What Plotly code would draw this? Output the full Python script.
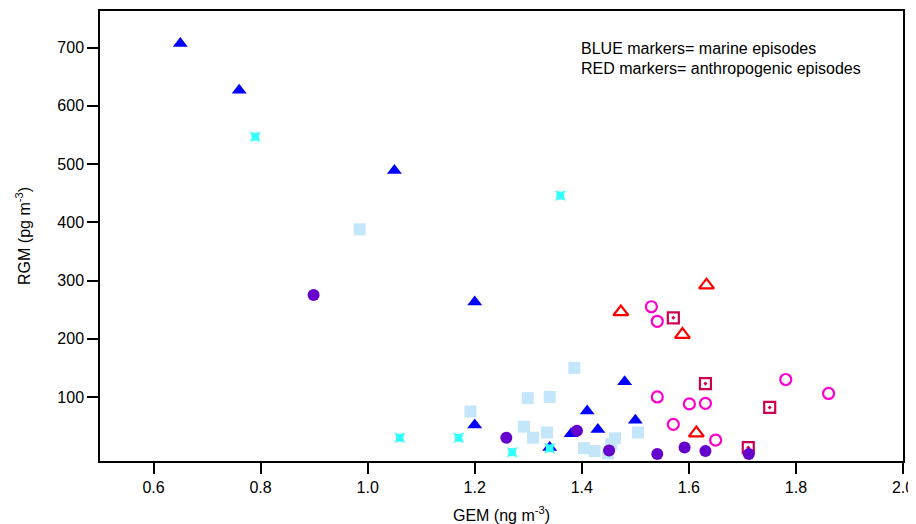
import plotly.graph_objects as go

# Light blue filled squares
sq_lb_x = [0.985, 1.192, 1.299, 1.340, 1.386, 1.292, 1.309, 1.335, 1.404, 1.424, 1.449, 1.462, 1.455, 1.505]
sq_lb_y = [388, 75, 98, 100, 150, 49, 30, 39, 12, 7, 3, 29, 19, 39]

# Blue filled triangles
tri_b_x = [0.65, 0.76, 1.05, 1.20, 1.20, 1.48, 1.41, 1.50, 1.43, 1.38, 1.34]
tri_b_y = [707, 627, 489, 263, 52, 126, 76, 60, 44, 37, 13]

# Cyan stars
star_c_x = [0.79, 1.36, 1.06, 1.17, 1.27, 1.34]
star_c_y = [547, 446, 30, 30, 5, 12]

# Crimson open squares with dot
sq_cr_x = [1.571, 1.631, 1.751, 1.711]
sq_cr_y = [236, 123, 82, 13]

# Red open triangles
tri_r_x = [1.473, 1.633, 1.588, 1.614]
tri_r_y = [246, 292, 207, 38]

# Magenta open circles
circ_m_x = [1.530, 1.541, 1.541, 1.601, 1.631, 1.571, 1.650, 1.781, 1.861]
circ_m_y = [255, 230, 100, 88, 89, 53, 26, 130, 106]

# Purple filled circles
circ_p_x = [0.899, 1.259, 1.391, 1.451, 1.541, 1.592, 1.631, 1.712]
circ_p_y = [275, 30, 42, 8, 2, 13, 7, 2]

x_ticks = [0.6, 0.8, 1.0, 1.2, 1.4, 1.6, 1.8, 2.0]
y_ticks = [100, 200, 300, 400, 500, 600, 700]

fig = go.Figure()

def add(x, y, symbol, color, size, lw=0, lc=None):
    fig.add_trace(go.Scatter(
        x=x, y=y, mode="markers", showlegend=False, cliponaxis=False,
        marker=dict(symbol=symbol, color=color, size=size,
                    line=dict(width=lw, color=lc if lc else color)),
    ))

add(sq_lb_x, sq_lb_y, "square", "#C4E6FA", 12)
add(tri_b_x, tri_b_y, "triangle-up", "#0000FF", 13)
add(star_c_x, star_c_y, "star-square", "#33FFFF", 10)
add(sq_cr_x, sq_cr_y, "square-open-dot", "#CC0055", 11, lw=2.2)
add(tri_r_x, tri_r_y, "triangle-up-open", "#FF0000", 13, lw=2.2)
add(circ_m_x, circ_m_y, "circle-open", "#FF00CC", 11, lw=2.2)
add(circ_p_x, circ_p_y, "circle", "#6600CC", 12)

font = dict(family="Liberation Sans", size=16, color="#000000")

fig.update_layout(
    width=908, height=516,
    margin=dict(l=92, r=13, t=3, b=63),
    plot_bgcolor="white", paper_bgcolor="white",
    font=font,
    xaxis=dict(
        range=[0.5, 2.0], tickvals=x_ticks, ticktext=[f"{v:.1f}" for v in x_ticks],
        showgrid=False, zeroline=False, showline=True, mirror=True,
        linecolor="black", linewidth=1.5, ticks="outside", ticklen=11,
        tickwidth=1.5, tickcolor="black", automargin=False,
        ticklabeloverflow="allow",
        title=dict(text="GEM (ng m<sup>-3</sup>)", standoff=15, font=font),
    ),
    yaxis=dict(
        range=[-10, 763], tickvals=y_ticks,
        showgrid=False, zeroline=False, showline=True, mirror=True,
        linecolor="black", linewidth=1.5, ticks="outside", ticklen=11,
        tickwidth=1.5, tickcolor="black", automargin=False,
        title=dict(text="RGM (pg m<sup>-3</sup>)", standoff=23, font=font),
    ),
    annotations=[
        dict(xref="paper", yref="paper", x=(579-100)/803, y=1-(49-11)/450,
             text="BLUE markers= marine episodes", showarrow=False,
             xanchor="left", yanchor="middle", font=font),
        dict(xref="paper", yref="paper", x=(579-100)/803, y=1-(68-11)/450,
             text="RED markers= anthropogenic episodes", showarrow=False,
             xanchor="left", yanchor="middle", font=font),
    ],
)

fig.write_html("out.html")
